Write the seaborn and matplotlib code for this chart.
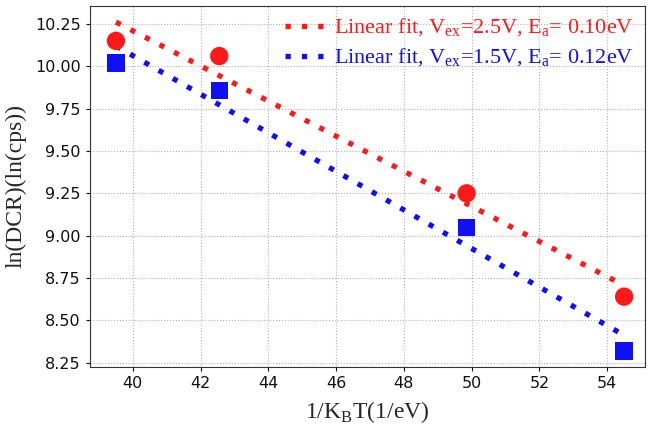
import numpy as np
import pandas as pd
import matplotlib
matplotlib.use("Agg")
import matplotlib.pyplot as plt
import seaborn as sns

# Data
inv_kT = [39.5, 42.55, 49.85, 54.5]
ln_dcr_25 = [10.15, 10.06, 9.25, 8.64]   # Vex = 2.5 V
ln_dcr_15 = [10.02, 9.855, 9.05, 8.32]   # Vex = 1.5 V
fit_labels = [r"Linear fit, V$_\mathregular{ex}$=2.5V, E$_\mathregular{a}$= 0.10eV",
              r"Linear fit, V$_\mathregular{ex}$=1.5V, E$_\mathregular{a}$= 0.12eV"]
yticks = [8.25, 8.50, 8.75, 9.00, 9.25, 9.50, 9.75, 10.00, 10.25]
xticks = [40, 42, 44, 46, 48, 50, 52, 54]

sns.set_style("whitegrid", {"grid.linestyle": ":", "grid.color": "#b0b0b0",
                            "axes.edgecolor": "#333333"})
plt.rcParams["font.family"] = ["DejaVu Sans"]
plt.rcParams["mathtext.fontset"] = "custom"
plt.rcParams["mathtext.rm"] = "Liberation Serif"

fig = plt.figure(figsize=(6.51, 4.26), dpi=100)
ax = fig.add_axes([0.138, 0.139, 0.853, 0.847])

colors = ["#ff1a1a", "#1010f5"]
for (ys, col, lab, mk) in [(ln_dcr_25, colors[0], fit_labels[0], "o"),
                           (ln_dcr_15, colors[1], fit_labels[1], "s")]:
    sub = pd.DataFrame({"x": inv_kT, "y": ys})
    sns.scatterplot(data=sub, x="x", y="y", ax=ax, marker=mk, s=175 if mk == "o" else 155,
                    color=col, edgecolor="none", zorder=3, legend=False)
    p = np.polyfit(inv_kT, ys, 1)
    xf = np.array([inv_kT[0], inv_kT[-1]])
    sns.lineplot(x=xf, y=np.polyval(p, xf), ax=ax, color=col, lw=3.8,
                 label=lab, zorder=2)
    ax.lines[-1].set_dashes((1, 2.1))

ax.set_xlim(38.73, 55.12)
ax.set_ylim(8.226, 10.356)
ax.set_xticks(xticks)
ax.set_yticks(yticks)
ax.set_yticklabels([f"{v:.2f}" for v in yticks])
ax.tick_params(labelsize=11.5, colors="#111111", length=3, left=True, bottom=True)
ax.grid(True, linestyle=":", color="#b0b0b0", lw=0.8)

ax.set_xlabel(r"1/K$_\mathregular{B}$T(1/eV)", fontsize=17, family="Liberation Serif", labelpad=6)
ax.set_ylabel("ln(DCR)(ln(cps))", fontsize=17, family="Liberation Serif", labelpad=6)

leg = ax.legend(loc="upper right", frameon=False, prop={"family": "Liberation Serif", "size": 16},
                handlelength=1.9, handletextpad=0.3, borderaxespad=0.1, labelspacing=0.35)
for t, c in zip(leg.get_texts(), colors):
    t.set_color(c)

fig.savefig("out.png", dpi=100)
